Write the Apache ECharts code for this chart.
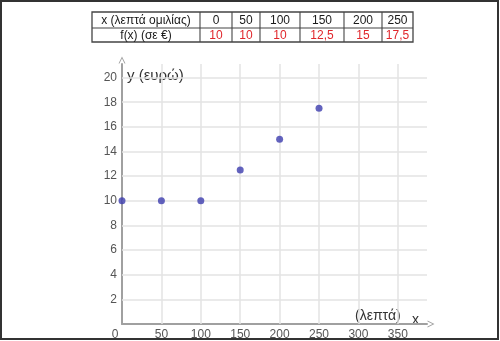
<!DOCTYPE html>
<html><head><meta charset="utf-8">
<script src="https://cdn.jsdelivr.net/npm/echarts@6/dist/echarts.min.js"></script>
<style>html,body{margin:0;padding:0;background:#fff}#c{width:500px;height:341px}</style>
</head><body><div id="c"></div>
<script>
const minutes = [0, 50, 100, 150, 200, 250];
const cost = [10, 10, 10, 12.5, 15, 17.5];
const costLabels = ['10', '10', '10', '12,5', '15', '17,5'];
const rowHeaders = ['x (λεπτά ομιλίας)', 'f(x) (σε €)'];
const xGrid = [50, 100, 150, 200, 250, 300, 350];
const yGrid = [2, 4, 6, 8, 10, 12, 14, 16, 18, 20];
const yName = 'y (ευρώ)';
const xName = '(λεπτά)';
const xLetter = 'x';

const font = 'Liberation Sans, Arial, sans-serif';
const colX = [92, 200, 232, 260, 300, 344, 382, 413];
const rowY = [12, 28, 42];
const g = [];
// table
g.push({type:'rect', shape:{x:colX[0], y:rowY[0], width:colX[7]-colX[0], height:rowY[2]-rowY[0]}, style:{fill:'none', stroke:'#444', lineWidth:1.3}});
g.push({type:'line', shape:{x1:colX[0], y1:rowY[1], x2:colX[7], y2:rowY[1]}, style:{stroke:'#444', lineWidth:1.1}});
for (let i = 1; i < colX.length - 1; i++) {
  g.push({type:'line', shape:{x1:colX[i], y1:rowY[0], x2:colX[i], y2:rowY[2]}, style:{stroke:'#444', lineWidth:1.1}});
}
const cells = [[rowHeaders[0], ...minutes.map(String)], [rowHeaders[1], ...costLabels]];
cells.forEach((row, r) => {
  row.forEach((t, c) => {
    g.push({type:'text', x:(colX[c]+colX[c+1])/2, y:(rowY[r]+rowY[r+1])/2 + 0.5,
      style:{text:t, align:'center', verticalAlign:'middle', font:'12px ' + font,
        fill:(r === 1 && c > 0) ? '#e0262b' : '#1a1a1a'}});
  });
});
// axis names
g.push({type:'text', x:127, y:76, style:{text:yName, verticalAlign:'middle', font:'15px ' + font, fill:'#333'}});
g.push({type:'text', x:355, y:316, style:{text:xName, verticalAlign:'middle', font:'14px ' + font, fill:'#333'}});
g.push({type:'text', x:412, y:320, style:{text:xLetter, verticalAlign:'middle', font:'14px ' + font, fill:'#333'}});
// frame
g.push({type:'rect', shape:{x:1, y:1, width:497, height:338}, style:{fill:'none', stroke:'#333', lineWidth:2}, z:100});

const gridStyle = {color:'#e3e3e3', width:1.5, type:'solid'};
const arrowPath = 'path://M0,10 L5,0 L10,10 L8.6,10 L5,2.8 L1.4,10 Z';

const chart = echarts.init(document.getElementById('c'), null, {renderer:'canvas'});
chart.setOption({
  animation:false,
  graphic:g,
  grid:{left:122, top:64, width:305, height:261, containLabel:false},
  xAxis:{type:'value', min:0, max:387, interval:50,
    axisLine:{show:true, symbol:['none', arrowPath], symbolSize:[7, 8], symbolOffset:[0, 4], lineStyle:{color:'#a0a0a0', width:2}},
    axisTick:{show:false}, splitLine:{show:false},
    axisLabel:{margin:5, color:'#555', fontSize:12, fontFamily:font,
      formatter:v => (v % 50 !== 0 ? '' : (v === 0 ? '{o|0}' : String(v))),
      rich:{o:{padding:[0,14,0,0], color:'#555', fontSize:12, fontFamily:font}}}},
  yAxis:{type:'value', min:0, max:21.1, interval:2,
    axisLine:{show:true, symbol:['none', arrowPath], symbolSize:[7, 8], symbolOffset:[0, 4], lineStyle:{color:'#a0a0a0', width:2}},
    axisTick:{show:false}, splitLine:{show:false},
    axisLabel:{margin:5, color:'#555', fontSize:12, fontFamily:font,
      formatter:v => (v === 0 || v % 2 !== 0 ? '' : String(v))}},
  series:[
    {type:'line', data:[], z:1, silent:true,
      markLine:{silent:true, symbol:'none', label:{show:false}, lineStyle:gridStyle,
        data:[...xGrid.map(v => ({xAxis:v})), ...yGrid.map(v => ({yAxis:v}))]}},
    {type:'scatter', z:5, symbolSize:7, itemStyle:{color:'#3c3cae'},
      data:minutes.map((m, i) => [m, cost[i]])}
  ]
});
</script>
</body></html>
